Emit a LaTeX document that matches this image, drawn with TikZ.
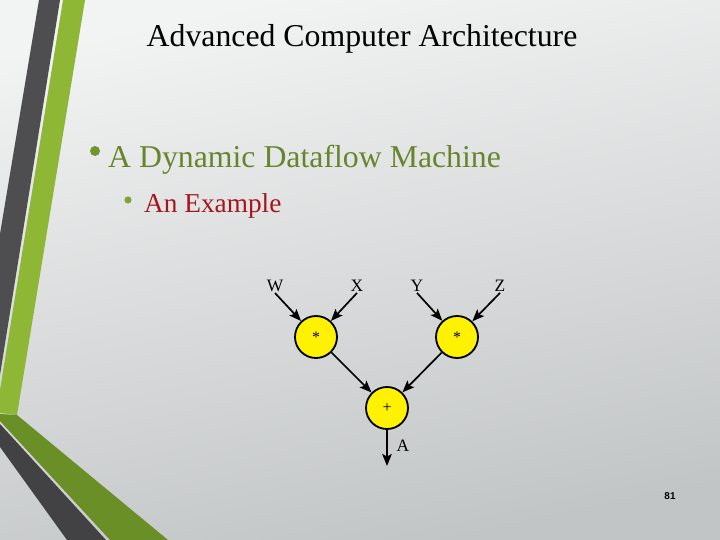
\documentclass[tikz,border=0pt]{standalone}
\usepackage{fontspec}
\setmainfont{Liberation Serif}
\newfontfamily\pagefont{Liberation Sans}
\usetikzlibrary{arrows.meta}
\definecolor{bgtop}{RGB}{242,243,243}
\definecolor{bgbot}{RGB}{194,197,198}
\definecolor{stripedark}{RGB}{78,78,80}
\definecolor{stripedarklow}{RGB}{66,66,68}
\definecolor{lightgreen}{RGB}{141,183,52}
\definecolor{darkgreen}{RGB}{106,143,38}
\definecolor{olivetext}{RGB}{104,133,46}
\definecolor{bulletgreen}{RGB}{112,150,44}
\definecolor{bulletgreen2}{RGB}{126,164,56}
\definecolor{redtext}{RGB}{165,22,28}
\begin{document}
\begin{tikzpicture}[x=1bp,y=-1bp,
  opnode/.style={circle,draw=black,line width=1.8bp,fill=yellow,minimum size=42bp,inner sep=0pt,font=\fontsize{16}{18}\selectfont},
  varlabel/.style={inner sep=1bp,font=\fontsize{17.5}{19}\selectfont},
  flow/.style={line width=1.7bp,-{Stealth[length=12bp,width=9.5bp,inset=2.5bp]}}]
\useasboundingbox (0,0) rectangle (720,540);
% background
\shade[top color=bgtop,bottom color=bgbot,shading angle=12] (0,0) rectangle (720,540);
% left decoration
\fill[stripedark] (39,0) -- (60,0) -- (0,375) -- (0,234) -- cycle;
\fill[lightgreen] (63,0) -- (85,0) -- (17,415) -- (0,413) -- (0,390) -- cycle;
\fill[darkgreen] (0,414) -- (17,415) -- (168,540) -- (110,540) -- (0,421) -- cycle;
\fill[stripedarklow] (0,424) -- (106,540) -- (67,540) -- (0,447) -- cycle;
% texts
\node[anchor=base,inner sep=0pt,font=\fontsize{31.9}{36}\selectfont] (title) at (362,47) {Advanced Computer Architecture};
\fill[bulletgreen] (95,151) circle (5);
\node[anchor=base west,inner sep=0pt,text=olivetext,font=\fontsize{31.9}{36}\selectfont] (l1) at (108,168) {A Dynamic Dataflow Machine};
\fill[bulletgreen2] (128,200) circle (3.6);
\node[anchor=base west,inner sep=0pt,text=redtext,font=\fontsize{27.4}{31}\selectfont] (l2) at (144,213) {An Example};
% diagram
\node[varlabel] (W) at (275,286) {W};
\node[varlabel] (X) at (357,286) {X};
\node[varlabel] (Y) at (417,286) {Y};
\node[varlabel] (Z) at (500,286) {Z};
\node[opnode] (m1) at (316,337) {*};
\node[opnode] (m2) at (457,337) {*};
\node[opnode] (p) at (387,408) {+};
\coordinate (out) at (387,466);
\node[varlabel] (A) at (403,446) {A};
\draw[flow] (W.south) -- (m1);
\draw[flow] (X.south) -- (m1);
\draw[flow] (Y.south) -- (m2);
\draw[flow] (Z.south) -- (m2);
\draw[flow] (m1) -- (p);
\draw[flow] (m2) -- (p);
\draw[flow] (p) -- (out);
% page number
\node[inner sep=0pt,font=\pagefont\bfseries\fontsize{10}{12}\selectfont] (pg) at (670,496) {81};
\end{tikzpicture}
\end{document}
